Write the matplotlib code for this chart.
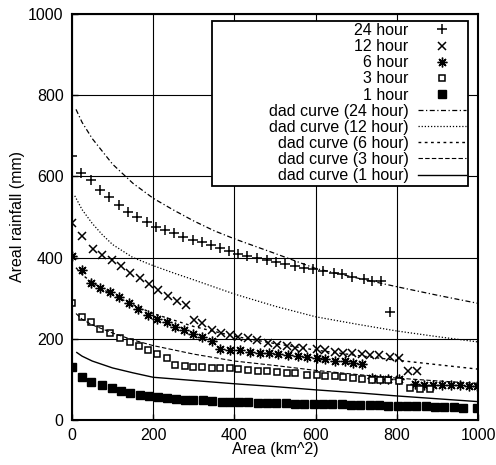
import matplotlib
matplotlib.use('Agg')
import matplotlib.pyplot as plt

# observed areal rainfall (mm) against area (km^2)
area_24 = [0, 22, 46, 69, 92, 117, 139, 161, 184, 206, 229, 251, 274, 297, 319, 342, 365, 387,
           410, 432, 456, 480, 502, 525, 549, 571, 594, 618, 644, 664, 689, 718, 738, 762, 783]
rain_24 = [650, 608, 590, 567, 549, 530, 513, 499, 488, 476, 469, 460, 451, 443, 437, 431, 423, 415,
           409, 404, 398, 394, 390, 383, 379, 375, 371, 367, 363, 359, 353, 347, 343, 341, 266]

area_12 = [0, 26, 52, 75, 98, 120, 143, 167, 190, 213, 237, 259, 281, 301, 321, 344, 366, 389, 410,
           433, 455, 482, 506, 529, 549, 570, 603, 623, 648, 668, 689, 714, 734, 756, 783, 804, 828, 849]
rain_12 = [486, 452, 422, 406, 393, 378, 363, 349, 334, 320, 305, 293, 284, 246, 238, 222, 214, 209, 205,
           201, 197, 189, 185, 181, 177, 177, 174, 172, 168, 166, 164, 163, 160, 159, 156, 152, 121, 121]

area_6 = [0, 24, 46, 69, 94, 117, 141, 163, 187, 209, 233, 254, 276, 299, 320, 344, 365, 389, 414, 438,
          463, 484, 508, 533, 557, 578, 603, 623, 648, 672, 693, 714, 738, 759, 779, 804,
          845, 867, 889, 911, 933, 955, 977, 997]
rain_6 = [404, 369, 338, 326, 315, 303, 288, 273, 259, 249, 240, 229, 221, 212, 205, 194, 175, 173, 171, 168,
          166, 164, 162, 160, 158, 156, 152, 150, 145, 144, 140, 138, 103, 101, 100, 100,
          88, 87, 86, 86, 85, 85, 84, 84]

area_3 = [0, 24, 46, 69, 94, 118, 142, 166, 188, 210, 233, 254, 278, 299, 319, 344, 365, 389, 410, 434,
          459, 480, 504, 529, 549, 578, 603, 623, 648, 668, 693, 714, 738, 759, 779, 804, 833, 857, 882]
rain_3 = [287, 254, 241, 225, 213, 201, 193, 182, 171, 162, 153, 136, 133, 131, 131, 129, 127, 127, 126, 123,
          121, 121, 119, 116, 115, 111, 111, 108, 107, 105, 103, 101, 99, 99, 99, 97, 78, 75, 75]

area_1 = [0, 24, 48, 73, 98, 122, 144, 167, 190, 213, 233, 256, 278, 299, 322, 344, 369, 389, 412, 434,
          457, 480, 503, 526, 549, 572, 595, 618, 641, 664, 687, 710, 733, 756, 779, 802, 825, 848,
          871, 894, 917, 940, 963, 997]
rain_1 = [131, 105, 93, 85, 78, 71, 66, 62, 59, 57, 54, 52, 50, 48, 48, 46, 45, 44, 43, 43,
          42, 42, 41, 41, 40, 40, 40, 39, 38, 38, 37, 37, 36, 36, 35, 34, 34, 33,
          33, 32, 31, 31, 30, 29]

# depth-area-duration curves
dad_area_24 = [10, 25, 50, 100, 150, 200, 250, 300, 350, 400, 450, 500, 600, 700, 800, 900, 1000]
dad_rain_24 = [765, 733, 693, 630, 583, 546, 517, 490, 466, 446, 428, 410, 373, 350, 328, 307, 287]
dad_area_12 = [7, 25, 50, 75, 100, 150, 200, 250, 300, 400, 500, 600, 700, 800, 900, 1000]
dad_rain_12 = [552, 518, 484, 456, 432, 400, 380, 362, 345, 310, 280, 254, 236, 219, 205, 192]
dad_area_6 = [10, 25, 50, 100, 150, 200, 300, 400, 500, 600, 700, 800, 900, 1000]
dad_rain_6 = [375, 358, 338, 308, 284, 262, 230, 206, 188, 172, 159, 147, 136, 125]
dad_area_3 = [10, 25, 50, 100, 150, 200, 300, 400, 500, 600, 700, 800, 900, 1000]
dad_rain_3 = [262, 248, 234, 214, 197, 183, 162, 145, 134, 122, 112, 103, 96, 90]
dad_area_1 = [12, 25, 50, 100, 150, 200, 300, 400, 500, 600, 700, 800, 900, 1000]
dad_rain_1 = [166, 157, 145, 128, 116, 105, 97, 89, 82, 74, 67, 59, 52, 45]

plt.rcParams['font.family'] = ['Liberation Sans', 'DejaVu Sans']
plt.rcParams['font.size'] = 11.5

fig = plt.figure(figsize=(4.96, 4.65), dpi=100)
ax = fig.add_axes([0.145, 0.097, 0.819, 0.873])

ax.plot(area_24, rain_24, ls='none', marker='+', ms=7, mew=1.1, color='k', label='24 hour')
ax.plot(area_12, rain_12, ls='none', marker='x', ms=5.5, mew=1.1, color='k', label='12 hour')
ax.plot(area_6, rain_6, ls='none', marker=(8, 2, 0), ms=7, mew=1.0, color='k', label='6 hour')
ax.plot(area_3, rain_3, ls='none', marker='s', ms=5, mew=1.1, mfc='white', color='k', label='3 hour')
ax.plot(area_1, rain_1, ls='none', marker='s', ms=5.5, color='k', label='1 hour')

ax.plot(dad_area_24, dad_rain_24, color='k', lw=0.9, ls=(0, (4, 2, 1, 2)),
        label='            dad curve (24 hour)')
ax.plot(dad_area_12, dad_rain_12, color='k', lw=0.9, ls=(0, (1, 1.5)), label='dad curve (12 hour)')
ax.plot(dad_area_6, dad_rain_6, color='k', lw=1.0, ls=(0, (2, 2.5)), label='dad curve (6 hour)')
ax.plot(dad_area_3, dad_rain_3, color='k', lw=0.8, ls=(0, (4, 2)), label='dad curve (3 hour)')
ax.plot(dad_area_1, dad_rain_1, color='k', lw=1.0, ls='-', label='dad curve (1 hour)')

ax.set_xlim(0, 1000)
ax.set_ylim(0, 1000)
ax.set_xticks(range(0, 1001, 200))
ax.set_yticks(range(0, 1001, 200))
ax.tick_params(direction='in', length=4, width=1, pad=6, labelsize=11.5)
ax.grid(True, color='k', lw=0.8)
for s in ax.spines.values():
    s.set_linewidth(1.5)

ax.set_xlabel('Area (km^2)')
ax.set_ylabel('Areal rainfall (mm)')
ax.xaxis.set_label_coords(0.5, -0.055)
ax.yaxis.set_label_coords(-0.115, 0.5)

leg = ax.legend(loc='upper right', bbox_to_anchor=(0.976, 0.9835), borderaxespad=0,
                markerfirst=False, numpoints=1, handlelength=3.0, handletextpad=0.6,
                labelspacing=0.07, borderpad=0.15, fancybox=False, framealpha=1,
                edgecolor='k', fontsize=11.5)
leg.get_frame().set_linewidth(1.3)

fig.savefig('out.png', dpi=100)
